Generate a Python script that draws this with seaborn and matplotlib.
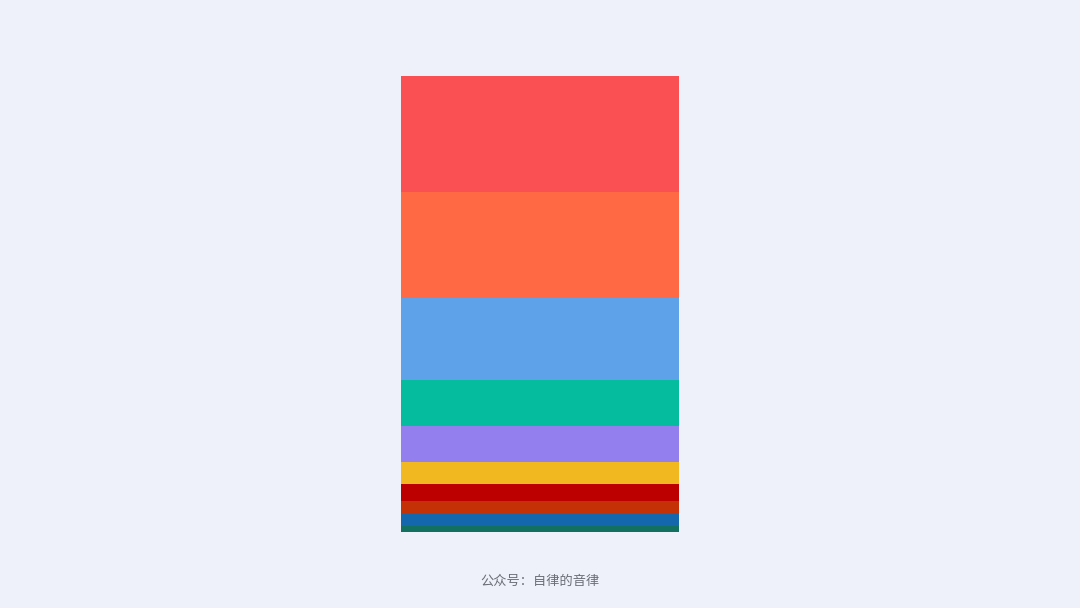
import matplotlib
matplotlib.use("Agg")
import matplotlib.pyplot as plt
import seaborn as sns

# segments listed from bottom to top
segments = ["s10", "s9", "s8", "s7", "s6", "s5", "s4", "s3", "s2", "s1"]
values = [6, 12, 13, 17, 22, 36, 46, 82, 106, 116]
colors = ["#11705F", "#1467AD", "#C43106", "#BC0000", "#F2B820",
          "#9380EE", "#05BC9E", "#5EA3EA", "#FF6943", "#FA5053"]
caption = "公众号：自律的音律"

sns.set_theme(style="white")
plt.rcParams["font.family"] = ["Noto Sans CJK SC", "DejaVu Sans"]

bg = "#EEF0FA"
fig = plt.figure(figsize=(10.8, 6.08), dpi=100, facecolor=bg)
ax = fig.add_axes([401 / 1080, (608 - 532) / 608, 278 / 1080, 456 / 608])
ax.set_facecolor(bg)

bottom = 0
for name, v, c in zip(segments, values, colors):
    sns.barplot(x=["bar"], y=[v], bottom=bottom, color=c, width=1,
                errorbar=None, linewidth=0, saturation=1, ax=ax)
    bottom += v

ax.set_xlim(-0.5, 0.5)
ax.set_ylim(0, sum(values))
ax.axis("off")

fig.text(0.5, 1 - 581 / 608, caption, ha="center", va="center",
         fontsize=9.5, color="#6B6E76")

fig.savefig("out.png", dpi=100, facecolor=bg)
